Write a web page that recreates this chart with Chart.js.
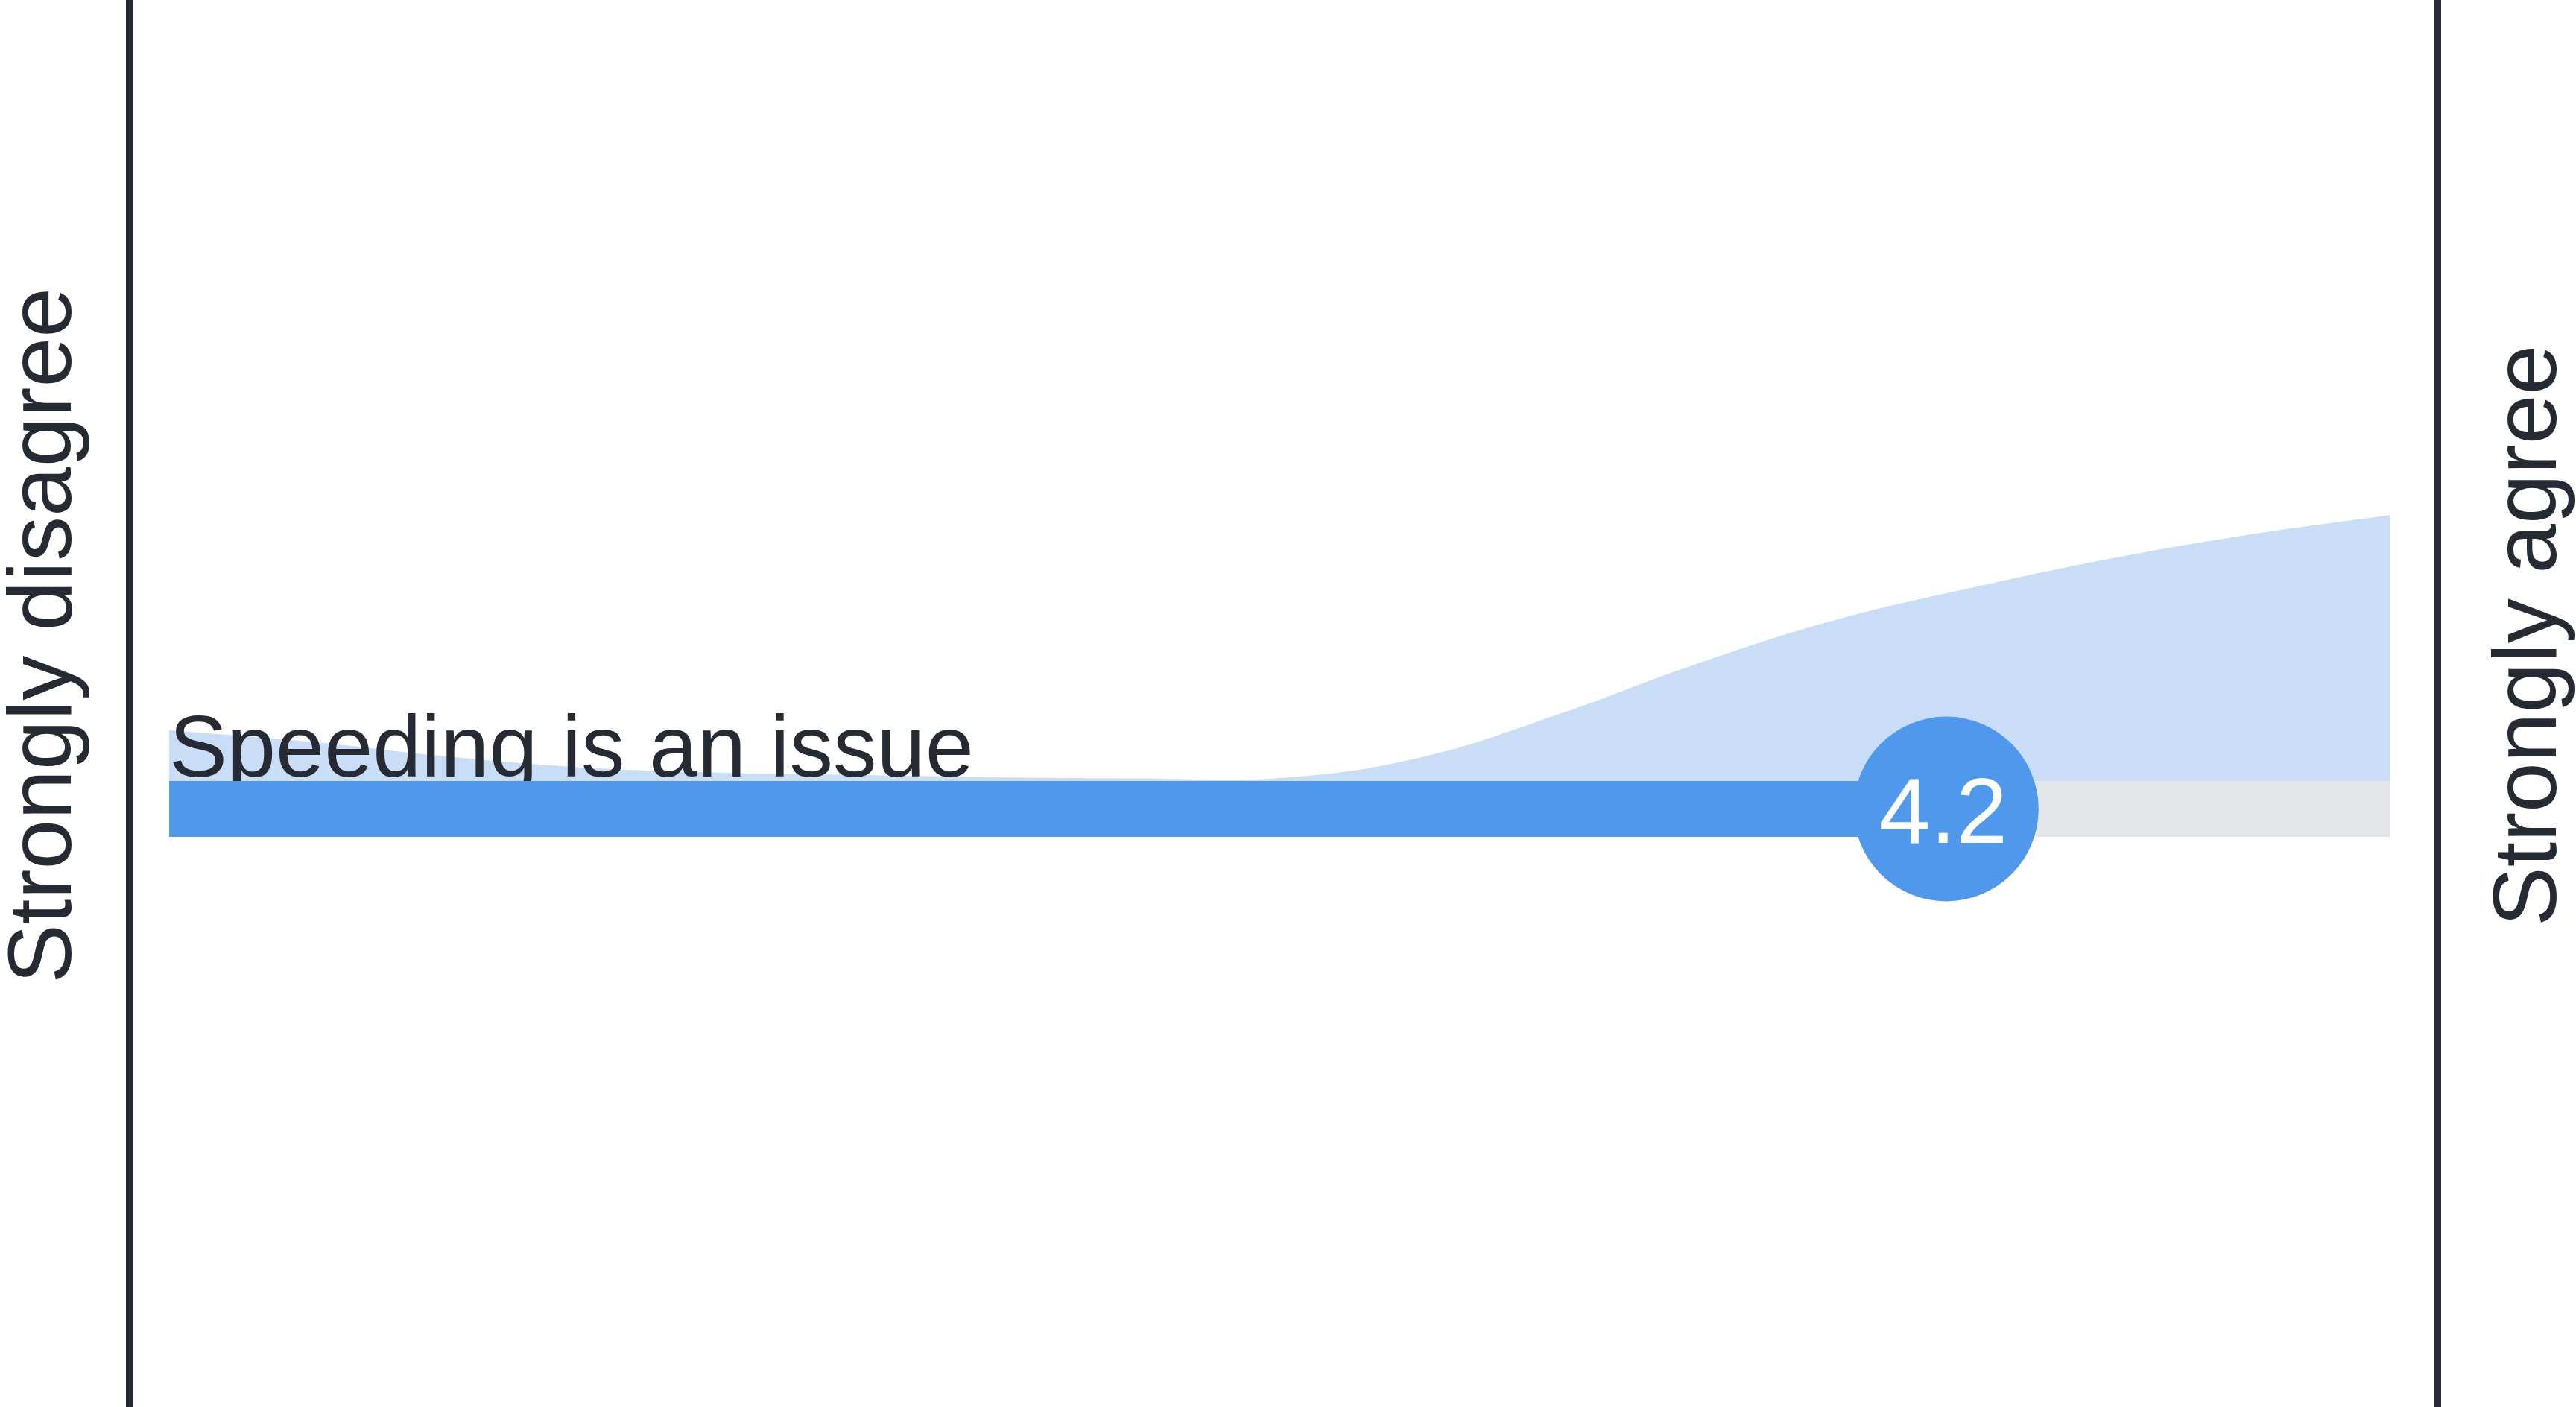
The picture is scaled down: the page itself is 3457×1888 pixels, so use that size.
<!DOCTYPE html>
<html>
<head>
<meta charset="utf-8">
<title>Speeding is an issue</title>
<script src="https://cdn.jsdelivr.net/npm/chart.js@4.4.1/dist/chart.umd.min.js"></script>
<style>
html, body { margin: 0; padding: 0; background: #fff; }
#wrap { position: relative; width: 3457px; height: 1888px; }
</style>
</head>
<body>
<div id="wrap"><canvas id="likertChart"></canvas></div>
<script>
// Statement, scale ends and mean score
var statement = 'Speeding is an issue';
var scaleEnds = ['Strongly disagree', 'Strongly agree'];
var scaleMin = 1, scaleMax = 5;
var meanScore = 4.2;

// Spread of answers along the 1-5 scale (relative density)
var densityX = [1, 1.25, 1.5, 1.75, 2, 2.25, 2.5, 2.75, 3, 3.25, 3.5, 3.75, 4, 4.25, 4.5, 4.75, 5];
var densityY = [13.6, 10.6, 6.6, 3.6, 2.2, 1.6, 1.0, 0.7, 0.8, 6.2, 17.8, 31.4, 43.2, 52.0, 59.8, 66.2, 71.4];

// Look
var BLUE = '#4f98eb', AREA = '#c9ddf6', TRACK = '#e5e6e9', INK = '#262a33';
var TRACK_Y = -7.5, TRACK_W = 75, DOT_R = 124;
var FONT = '"Liberation Sans", Arial, sans-serif';

var decor = {
  id: 'decor',
  beforeDatasetDraw: function(chart, args) {
    if (args.index !== 1) return; // statement sits under the track
    var ctx = chart.ctx, a = chart.chartArea;
    var y0 = chart.scales.y.getPixelForValue(0);
    ctx.save();
    ctx.font = '117px ' + FONT;
    ctx.fillStyle = INK;
    ctx.textBaseline = 'alphabetic';
    ctx.fillText(statement, a.left, y0 - 6);
    ctx.restore();
  },
  afterDatasetsDraw: function(chart) {
    var ctx = chart.ctx, a = chart.chartArea, h = chart.height;
    var dot = chart.getDatasetMeta(3).data[0];
    ctx.save();
    // frame lines at both scale ends
    ctx.strokeStyle = INK;
    ctx.lineWidth = 10;
    [a.left - 53, a.right + 63].forEach(function(x) {
      ctx.beginPath(); ctx.moveTo(x, 0); ctx.lineTo(x, h); ctx.stroke();
    });
    // end labels, reading bottom to top
    ctx.fillStyle = INK;
    ctx.font = '120px ' + FONT;
    ctx.textAlign = 'center';
    ctx.textBaseline = 'alphabetic';
    [[a.left - 132, scaleEnds[0]], [a.right + 222, scaleEnds[1]]].forEach(function(l) {
      ctx.save();
      ctx.translate(l[0], 853);
      ctx.rotate(-Math.PI / 2);
      ctx.fillText(l[1], 0, 0);
      ctx.restore();
    });
    // score in the dot
    ctx.fillStyle = '#fff';
    ctx.font = '124px ' + FONT;
    ctx.fillText(meanScore.toFixed(1), dot.x - 4, dot.y + 45);
    ctx.restore();
  }
};

new Chart(document.getElementById('likertChart'), {
  type: 'line',
  data: {
    datasets: [
      {
        data: densityX.map(function(x, i) { return { x: x, y: densityY[i] }; }),
        fill: 'origin',
        backgroundColor: AREA,
        borderColor: 'rgba(0,0,0,0)',
        borderWidth: 0,
        pointRadius: 0,
        tension: 0.4,
        order: 3
      },
      {
        data: [{ x: scaleMin, y: TRACK_Y }, { x: scaleMax, y: TRACK_Y }],
        borderColor: TRACK,
        borderWidth: TRACK_W,
        borderCapStyle: 'butt',
        pointRadius: 0,
        clip: false,
        order: 2
      },
      {
        data: [{ x: scaleMin, y: TRACK_Y }, { x: meanScore, y: TRACK_Y }],
        borderColor: BLUE,
        borderWidth: TRACK_W,
        borderCapStyle: 'butt',
        pointRadius: 0,
        clip: false,
        order: 1
      },
      {
        data: [{ x: meanScore, y: TRACK_Y }],
        showLine: false,
        pointRadius: DOT_R,
        pointBackgroundColor: BLUE,
        pointBorderWidth: 0,
        clip: false,
        order: 0
      }
    ]
  },
  options: {
    responsive: true,
    maintainAspectRatio: false,
    animation: false,
    events: [],
    layout: { padding: { left: 227, right: 249, top: 548, bottom: 590 } },
    plugins: { legend: { display: false }, tooltip: { enabled: false } },
    scales: {
      x: { type: 'linear', min: scaleMin, max: scaleMax, display: false },
      y: { type: 'linear', min: -50, max: 100, display: false }
    }
  },
  plugins: [decor]
});
</script>
</body>
</html>
